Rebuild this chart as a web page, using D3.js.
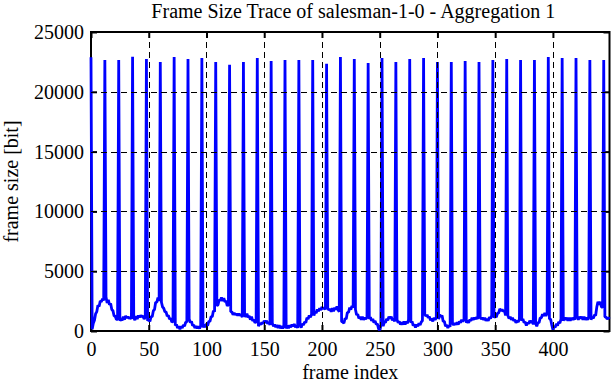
<!DOCTYPE html>
<html><head><meta charset="utf-8">
<script src="https://cdn.jsdelivr.net/npm/d3@7"></script>
<style>body{margin:0;background:#fff}svg{display:block}text{font-family:"Liberation Serif","Times New Roman",serif;fill:#000}</style>
</head><body>
<script>
const title = "Frame Size Trace of salesman-1-0 - Aggregation 1";
const xLabel = "frame index";
const yLabel = "frame size [bit]";
const xTicks = [0, 50, 100, 150, 200, 250, 300, 350, 400];
const yTicks = [0, 5000, 10000, 15000, 20000, 25000];
const xMax = 449;
const yMax = 25000;
// frame sizes, one GOP (12 frames) per row, frames 0..449
const frameSizes = [
22885, 150, 650, 900, 1450, 1600, 2150, 2050, 2500, 2450, 2700, 2550,
22658, 2850, 2350, 2600, 2200, 2300, 1800, 1700, 1250, 1250, 950, 1000,
22658, 850, 1000, 900, 1200, 950, 1250, 1100, 1200, 1050, 1150, 1000,
22937, 1150, 900, 1250, 1000, 1300, 1150, 1300, 1200, 1250, 1000, 1150,
22742, 850, 950, 800, 1200, 1200, 1700, 1800, 2400, 2400, 2800, 2500,
22491, 2400, 2000, 1900, 1600, 1600, 1250, 1300, 1000, 1050, 750, 800,
22910, 450, 550, 250, 400, 150, 380, 250, 500, 400, 750, 750,
22742, 1000, 700, 800, 450, 500, 250, 400, 220, 380, 200, 450,
22825, 300, 550, 320, 600, 450, 800, 800, 1200, 1200, 1700, 1600,
22491, 2100, 2200, 2600, 2550, 2800, 2500, 2750, 2450, 2500, 2100, 2200,
22267, 1600, 1600, 1350, 1500, 1350, 1450, 1300, 1450, 1300, 1400, 1150,
22491, 1300, 1200, 1450, 1150, 1250, 950, 1200, 850, 950, 700, 750,
22825, 400, 650, 550, 700, 600, 850, 700, 850, 600, 750, 500,
22574, 650, 400, 550, 320, 500, 250, 480, 230, 400, 220, 380,
22658, 200, 450, 230, 480, 320, 550, 400, 580, 320, 480, 250,
22658, 500, 280, 600, 500, 750, 700, 1100, 1000, 1300, 1150, 1400,
22658, 1300, 1600, 1500, 1800, 1650, 1900, 1750, 2000, 1850, 1950, 1800,
22350, 1900, 1750, 1850, 1600, 1900, 1650, 1950, 1800, 2050, 1750, 1600,
22910, 800, 750, 650, 1050, 1000, 1550, 1550, 1950, 1800, 2100, 1950,
22742, 1800, 1350, 1400, 1050, 1200, 950, 1200, 950, 1100, 1000, 1150,
22408, 1000, 1150, 850, 1000, 700, 850, 550, 600, 200, 60, 450,
22825, 400, 750, 700, 1000, 900, 1200, 1050, 1200, 900, 1050, 800,
22491, 950, 700, 800, 550, 700, 550, 800, 550, 800, 650, 950,
22742, 700, 800, 450, 550, 300, 550, 400, 650, 500, 750, 850,
22825, 1400, 1250, 1350, 1100, 1200, 900, 1050, 800, 1100, 950, 1100,
22491, 1000, 1350, 1200, 1300, 800, 800, 400, 500, 250, 480, 350,
22491, 650, 500, 650, 550, 700, 550, 800, 700, 950, 800, 950,
22574, 700, 850, 700, 950, 850, 1100, 950, 1100, 1000, 1150, 1000,
22491, 1150, 1000, 1100, 950, 1100, 850, 1000, 850, 1150, 1050, 1300,
22658, 1100, 1250, 1150, 1500, 1500, 1850, 1700, 1800, 1650, 1700, 1300,
22742, 1300, 1050, 1200, 950, 1100, 850, 950, 700, 850, 750, 1000,
22658, 850, 1000, 700, 750, 450, 700, 600, 850, 700, 850, 550,
22658, 650, 400, 700, 700, 1100, 1100, 1400, 1250, 1500, 1250, 1500,
22910, 1000, 1000, 500, 120, 380, 300, 600, 450, 750, 650, 1000,
22825, 850, 1100, 950, 1100, 850, 1100, 850, 1100, 950, 1100, 950,
22825, 1200, 950, 1200, 1050, 1200, 950, 1200, 950, 1100, 950, 1200,
22658, 950, 1200, 1050, 1350, 1300, 2000, 2450, 2200, 2450, 2000, 2000,
22658, 1200, 1150, 1000, 1100, 1000
];

const W = 612, H = 382;
const L = 91, R = 609.5, T = 32, B = 331;
const svg = d3.select("body").append("svg").attr("width", W).attr("height", H);
const x = d3.scaleLinear().domain([0, xMax]).range([L, R]);
const y = d3.scaleLinear().domain([0, yMax]).range([B, T]);

// axes with inward ticks
const tickLen = 6;
const xAxisB = d3.axisBottom(x).tickValues(xTicks).tickSize(-tickLen).tickPadding(11).tickFormat(d3.format("d"));
const xAxisT = d3.axisTop(x).tickValues(xTicks).tickSize(-tickLen).tickFormat("");
const yAxisL = d3.axisLeft(y).tickValues(yTicks).tickSize(-tickLen).tickPadding(7).tickFormat(d3.format("d"));
const yAxisR = d3.axisRight(y).tickValues(yTicks).tickSize(-tickLen).tickFormat("");
function style(g) {
  g.select(".domain").remove();
  g.selectAll(".tick line").attr("stroke", "#000").attr("stroke-width", 2);
  g.selectAll(".tick text").attr("font-size", 20).attr("font-family", "Liberation Serif");
}
svg.append("g").attr("transform", `translate(0,${B})`).call(xAxisB).call(style);
svg.append("g").attr("transform", `translate(0,${T})`).call(xAxisT).call(style);
svg.append("g").attr("transform", `translate(${L},0)`).call(yAxisL).call(style);
svg.append("g").attr("transform", `translate(${R},0)`).call(yAxisR).call(style);

// frame
svg.append("rect").attr("x", L).attr("y", T).attr("width", R - L).attr("height", B - T)
  .attr("fill", "none").attr("stroke", "#000").attr("stroke-width", 2);

// data line
const line = d3.line().x((d, i) => x(i)).y(d => y(d));
svg.append("path").datum(frameSizes).attr("d", line)
  .attr("fill", "none").attr("stroke", "#0000ff").attr("stroke-width", 2.8)
  .attr("stroke-linejoin", "bevel");

// grid
const grid = svg.append("g").attr("stroke", "#000").attr("stroke-width", 1).attr("stroke-dasharray", "6,4");
grid.selectAll(".gx").data(xTicks.filter(t => t > 0)).enter().append("line")
  .attr("x1", d => Math.round(x(d)) + 0.5).attr("x2", d => Math.round(x(d)) + 0.5).attr("y1", T).attr("y2", B);
grid.selectAll(".gy").data(yTicks.filter(t => t > 0 && t < yMax)).enter().append("line")
  .attr("y1", d => Math.round(y(d)) + 0.5).attr("y2", d => Math.round(y(d)) + 0.5).attr("x1", L).attr("x2", R);

// texts
svg.append("text").attr("x", (L + R) / 2 + 3).attr("y", 18).attr("text-anchor", "middle")
  .attr("font-size", 20).text(title);
svg.append("text").attr("x", (L + R) / 2).attr("y", 379).attr("text-anchor", "middle")
  .attr("font-size", 20).text(xLabel);
svg.append("text").attr("transform", `translate(18,${(T + B) / 2}) rotate(-90)`).attr("text-anchor", "middle")
  .attr("font-size", 20).text(yLabel);
</script>
</body></html>
